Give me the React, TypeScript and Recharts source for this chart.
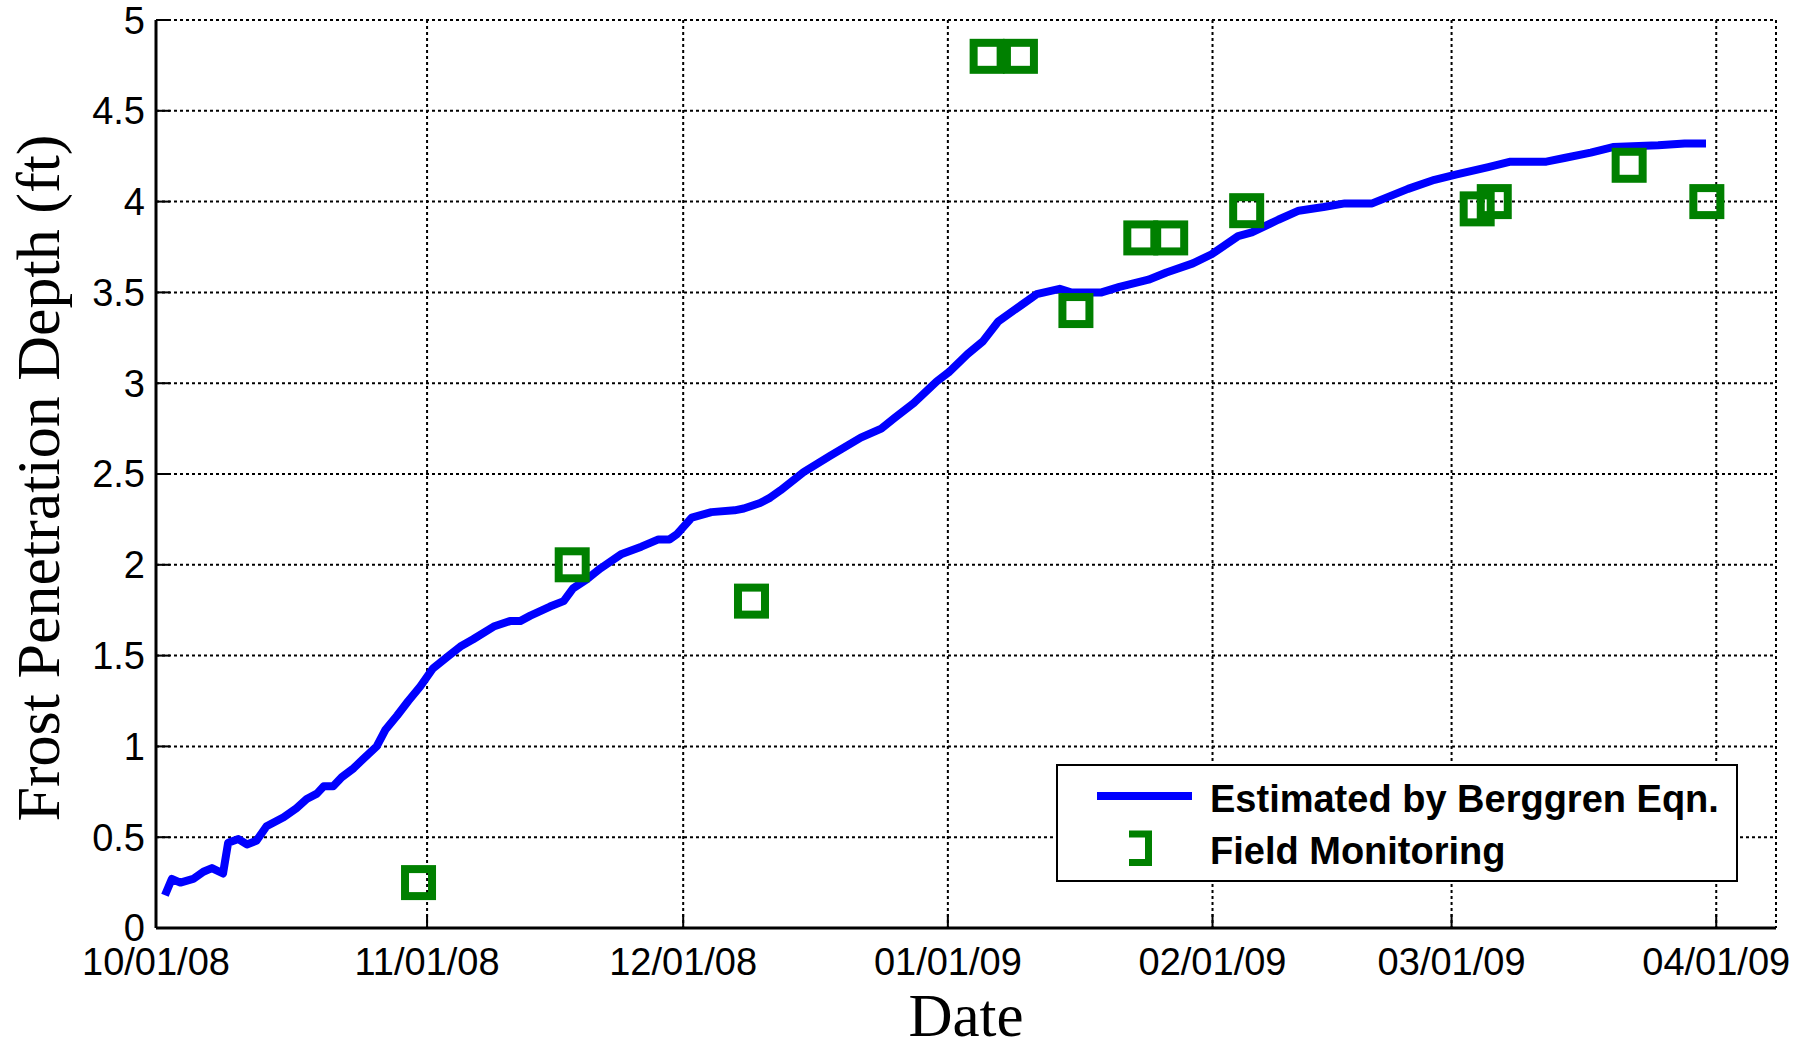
import {
  ComposedChart,
  Line,
  Scatter,
  XAxis,
  YAxis,
  CartesianGrid,
  Legend,
} from "recharts";

document.body.style.margin = "0";

// x values are days counted from 10/01/08
const LINE_DAYS = [
  0.3, 1.1, 2.1, 3.6, 4.8, 5.8, 7.1, 7.7, 8.9, 9.9,
  11.0, 12.2, 14.2, 15.7, 16.9, 18.1, 18.9, 20.0, 21.0, 22.4,
  23.5, 25.1, 26.1, 27.5, 28.8, 30.2, 31.7, 33.3, 34.9, 36.4,
  38.8, 40.7, 41.9, 43.1, 44.0, 45.4, 47.0, 48.1, 49.7, 51.3,
  53.8, 56.1, 58.1, 59.4, 60.3, 62.0, 64.3, 67.0, 68.1, 70.0,
  71.2, 72.4, 75.1, 78.2, 81.8, 84.2, 85.8, 88.0, 90.7, 92.1,
  94.3, 96.1, 97.9, 100.6, 102.4, 105.1, 106.4, 110.0, 112.1, 115.5,
  117.6, 120.7, 122.9, 126.0, 127.6, 130.7, 133.1, 136.0, 138.5, 141.7,
  143.8, 145.9, 149.0, 151.6, 155.3, 157.9, 162.1, 164.2, 167.3, 169.9,
  175.2, 178.3, 180.8,
];
const LINE_DEPTH = [
  0.18, 0.27, 0.25, 0.27, 0.31, 0.33, 0.3, 0.47, 0.49, 0.46,
  0.48, 0.56, 0.61, 0.66, 0.71, 0.74, 0.78, 0.78, 0.83, 0.88,
  0.93, 1.0, 1.09, 1.17, 1.25, 1.33, 1.43, 1.49, 1.55, 1.59,
  1.66, 1.69, 1.69, 1.72, 1.74, 1.77, 1.8, 1.87, 1.92, 1.98,
  2.06, 2.1, 2.14, 2.14, 2.17, 2.26, 2.29, 2.3, 2.31, 2.34,
  2.37, 2.41, 2.51, 2.6, 2.7, 2.75, 2.81, 2.89, 3.01, 3.06,
  3.16, 3.23, 3.34, 3.43, 3.49, 3.52, 3.5, 3.5, 3.53, 3.57,
  3.61, 3.66, 3.71, 3.81, 3.83, 3.9, 3.95, 3.97, 3.99, 3.99,
  4.03, 4.07, 4.12, 4.15, 4.19, 4.22, 4.22, 4.24, 4.27, 4.3,
  4.31, 4.32, 4.32,
];

const FIELD_DAYS = [30, 48, 69, 96.6, 100.5, 107, 114.6, 118.1, 127, 154, 156, 171.8, 180.9];
const FIELD_DEPTH = [0.25, 2.0, 1.8, 4.8, 4.8, 3.4, 3.8, 3.8, 3.95, 3.96, 4.0, 4.2, 4.0];

const X_DOMAIN = [-0.75, 189];
const TICK_DAYS = [-0.75, 31, 61, 92, 123, 151, 182];
const TICK_LABELS = ["10/01/08", "11/01/08", "12/01/08", "01/01/09", "02/01/09", "03/01/09", "04/01/09"];
const DEPTH_TICKS = [0, 0.5, 1, 1.5, 2, 2.5, 3, 3.5, 4, 4.5, 5];

const lineData = LINE_DAYS.map((day, i) => ({ day, depth: LINE_DEPTH[i] }));
const fieldData = FIELD_DAYS.map((day, i) => ({ day, depth: FIELD_DEPTH[i] }));

const SANS = "'Liberation Sans', Arial, Helvetica, sans-serif";
const SERIF = "'Liberation Serif', 'Times New Roman', serif";
const BLUE = "#0000ff";
const GREEN = "#008000";

const tickStyle = { fill: "#000", fontSize: 38, fontFamily: SANS };
const axisLineStyle = { stroke: "#000", strokeWidth: 3 };
const tickLineStyle = { stroke: "#000", strokeWidth: 2 };

function SquareMarker(props: any) {
  const { cx, cy } = props;
  if (cx == null || cy == null) return null;
  return (
    <rect
      x={cx - 13.5}
      y={cy - 13.5}
      width={27}
      height={27}
      fill="none"
      stroke={GREEN}
      strokeWidth={8}
    />
  );
}

function DateTitle({ viewBox }: any) {
  const { x, y, width } = viewBox;
  return (
    <text x={x + width / 2} y={y + 108} textAnchor="middle" fontFamily={SERIF} fontSize={61} fill="#000">
      Date
    </text>
  );
}

function DepthTitle({ viewBox }: any) {
  const { x, y, height } = viewBox;
  const tx = x + 59;
  const ty = y + height / 2 + 4;
  return (
    <text
      x={tx}
      y={ty}
      transform={`rotate(-90, ${tx}, ${ty})`}
      textAnchor="middle"
      fontFamily={SERIF}
      fontSize={62}
      fill="#000"
    >
      Frost Penetration Depth (ft)
    </text>
  );
}

function FrostLegend({ payload }: any) {
  const items = payload ?? [];
  return (
    <div
      style={{
        width: 682,
        height: 118,
        boxSizing: "border-box",
        border: "2.5px solid #000",
        background: "#fff",
      }}
    >
      <svg width={677} height={113} style={{ display: "block" }}>
        {items.map((entry: any) => {
          const isLine = entry.type === "line";
          const baseline = isLine ? 46 : 98;
          return (
            <g key={entry.value}>
              {isLine ? (
                <line x1={39} x2={134} y1={30} y2={30} stroke={BLUE} strokeWidth={8} />
              ) : (
                <path d="M71,68 H90.5 V96.5 H71" fill="none" stroke={GREEN} strokeWidth={7} />
              )}
              <text x={152} y={baseline} fontFamily={SANS} fontWeight="bold" fontSize={38} fill="#000">
                {entry.value}
              </text>
            </g>
          );
        })}
      </svg>
    </div>
  );
}

export default function App() {
  return (
    <div style={{ width: 1808, height: 1045, background: "#fff" }}>
      <ComposedChart
        width={1808}
        height={1045}
        data={lineData}
        margin={{ top: 20, right: 32, bottom: 0, left: 0 }}
      >
        <CartesianGrid
          xAxisId="date"
          yAxisId="depth"
          stroke="#000"
          strokeWidth={2}
          strokeDasharray="3 3"
        />
        <XAxis
          xAxisId="date"
          dataKey="day"
          type="number"
          domain={X_DOMAIN}
          allowDataOverflow
          ticks={TICK_DAYS}
          interval={0}
          tickFormatter={(_v: number, i: number) => TICK_LABELS[i]}
          height={117}
          tick={tickStyle}
          tickSize={-14}
          tickMargin={34}
          axisLine={axisLineStyle}
          tickLine={tickLineStyle}
          label={DateTitle}
        />
        <XAxis
          xAxisId="top"
          orientation="top"
          dataKey="day"
          type="number"
          domain={X_DOMAIN}
          allowDataOverflow
          ticks={TICK_DAYS}
          interval={0}
          height={0}
          tick={false}
          tickSize={-14}
          axisLine={axisLineStyle}
          tickLine={tickLineStyle}
        />
        <YAxis
          yAxisId="depth"
          type="number"
          domain={[0, 5]}
          allowDataOverflow
          ticks={DEPTH_TICKS}
          interval={0}
          width={156}
          tick={tickStyle}
          tickSize={-14}
          tickMargin={25}
          axisLine={axisLineStyle}
          tickLine={tickLineStyle}
          label={DepthTitle}
        />
        <YAxis
          yAxisId="right"
          orientation="right"
          type="number"
          domain={[0, 5]}
          allowDataOverflow
          ticks={DEPTH_TICKS}
          interval={0}
          width={0}
          tick={false}
          tickSize={-14}
          axisLine={axisLineStyle}
          tickLine={tickLineStyle}
        />
        <Legend
          layout="vertical"
          align="center"
          verticalAlign="middle"
          content={FrostLegend}
          wrapperStyle={{ left: 1056, top: 764, width: 682, height: 118 }}
        />
        <Line
          xAxisId="date"
          yAxisId="depth"
          type="linear"
          dataKey="depth"
          name="Estimated by Berggren Eqn."
          stroke={BLUE}
          strokeWidth={8}
          strokeLinejoin="round"
          dot={false}
          activeDot={false}
          legendType="line"
          isAnimationActive={false}
        />
        <Scatter
          xAxisId="date"
          yAxisId="depth"
          data={fieldData}
          dataKey="depth"
          name="Field Monitoring"
          fill={GREEN}
          shape={SquareMarker}
          legendType="square"
          isAnimationActive={false}
        />
      </ComposedChart>
    </div>
  );
}
